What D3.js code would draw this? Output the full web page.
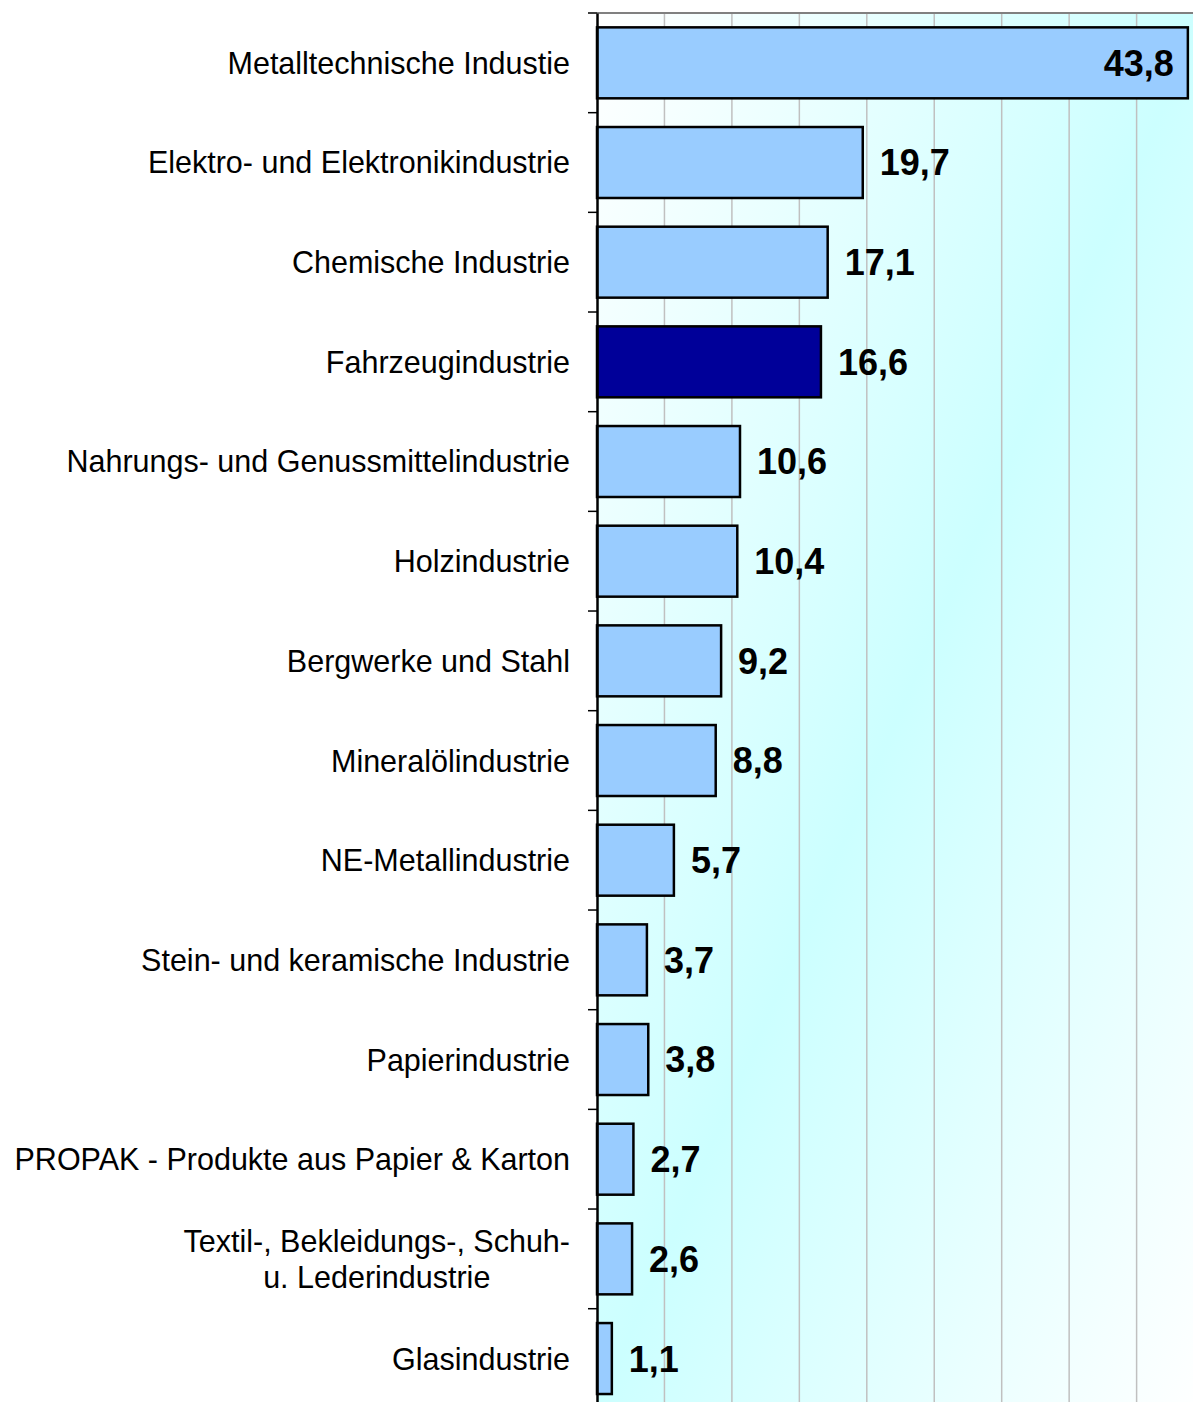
<!DOCTYPE html>
<html>
<head>
<meta charset="utf-8">
<script src="https://cdn.jsdelivr.net/npm/d3@7"></script>
<style>
html,body{margin:0;padding:0;background:#fff;}
svg{display:block;}
</style>
</head>
<body>
<svg id="chart" width="1193" height="1402"></svg>
<script>
const categories = [
  "Metalltechnische Industie",
  "Elektro- und Elektronikindustrie",
  "Chemische Industrie",
  "Fahrzeugindustrie",
  "Nahrungs- und Genussmittelindustrie",
  "Holzindustrie",
  "Bergwerke und Stahl",
  "Mineralölindustrie",
  "NE-Metallindustrie",
  "Stein- und keramische Industrie",
  "Papierindustrie",
  "PROPAK - Produkte aus Papier & Karton",
  "Textil-, Bekleidungs-, Schuh-\nu. Lederindustrie",
  "Glasindustrie"
];
const values = [43.8, 19.7, 17.1, 16.6, 10.6, 10.4, 9.2, 8.8, 5.7, 3.7, 3.8, 2.7, 2.6, 1.1];
const highlighted = ["Fahrzeugindustrie"];
const gridTicks = [5, 10, 15, 20, 25, 30, 35, 40, 45];

const svg = d3.select("#chart");
const mLeft = 597, mTop = 13, mBottom = 13 + 14 * 99.67, mRight = 1193;
const x = d3.scaleLinear().domain([0, 45]).range([mLeft, mLeft + 45 * 13.49]);
const y = d3.scaleBand().domain(categories).range([mTop, mBottom]).paddingInner(0.288).paddingOuter(0.144);

const defs = svg.append("defs");
const grad = defs.append("linearGradient").attr("id", "bg")
  .attr("x1", 0).attr("y1", 0).attr("x2", 1).attr("y2", 1);
grad.append("stop").attr("offset", 0).attr("stop-color", "#ffffff");
grad.append("stop").attr("offset", 0.5).attr("stop-color", "#ccffff");
grad.append("stop").attr("offset", 1).attr("stop-color", "#ffffff");

svg.append("rect").attr("x", mLeft).attr("y", mTop)
  .attr("width", x(45) - mLeft).attr("height", mBottom - mTop)
  .attr("fill", "url(#bg)");

// gridlines
svg.append("g").selectAll("line").data(gridTicks).join("line")
  .attr("x1", d => x(d)).attr("x2", d => x(d))
  .attr("y1", mTop).attr("y2", mBottom)
  .attr("stroke", "#c0c0c0").attr("stroke-width", 1.5);

// top border
svg.append("line").attr("x1", mLeft).attr("x2", x(45)).attr("y1", mTop).attr("y2", mTop)
  .attr("stroke", "#808080").attr("stroke-width", 2);

// bars
const data = categories.map((c, i) => ({c, v: values[i]}));
svg.append("g").selectAll("rect").data(data).join("rect")
  .attr("x", x(0))
  .attr("y", d => y(d.c))
  .attr("width", d => x(d.v) - x(0))
  .attr("height", y.bandwidth())
  .attr("fill", d => highlighted.includes(d.c) ? "#000099" : "#99ccff")
  .attr("stroke", "#000").attr("stroke-width", 2.5);

// axis
const yAxis = d3.axisLeft(y).tickSize(0).tickFormat("");
const axG = svg.append("g").attr("transform", `translate(${mLeft},0)`).call(yAxis);
axG.select(".domain").attr("stroke", "#000").attr("stroke-width", 2.5);
// boundary ticks
const bounds = categories.map(c => y(c) - y.step() * y.paddingInner() / 2);
svg.append("g").selectAll("line").data(bounds).join("line")
  .attr("x1", mLeft - 9).attr("x2", mLeft).attr("y1", d => d).attr("y2", d => d)
  .attr("stroke", "#000").attr("stroke-width", 1.5);

// category labels
const fmt = v => String(v).replace(".", ",");
const lab = svg.append("g").attr("font-family", "Liberation Sans, Arial, sans-serif")
  .attr("font-size", 30.5).attr("fill", "#000");
data.forEach(d => {
  const lines = d.c.split("\n");
  const cy = y(d.c) + y.bandwidth() / 2;
  if (lines.length === 1) {
    lab.append("text").attr("x", 570).attr("y", cy).attr("dy", "0.36em")
      .attr("text-anchor", "end").text(lines[0]);
  } else {
    const t = lab.append("text").attr("text-anchor", "middle");
    const tmp = t.append("tspan").text(lines[0]);
    const w = tmp.node().getComputedTextLength();
    tmp.remove();
    const cx = 570 - w / 2;
    lines.forEach((ln, i) => {
      t.append("tspan").attr("x", cx)
        .attr("y", cy + (i - (lines.length - 1) / 2) * 36)
        .attr("dy", "0.36em").text(ln);
    });
  }
});

// value labels
const vl = svg.append("g").attr("font-family", "Liberation Sans, Arial, sans-serif")
  .attr("font-size", 36).attr("font-weight", "bold").attr("fill", "#000");
data.forEach(d => {
  const cy = y(d.c) + y.bandwidth() / 2;
  const inside = x(d.v) + 90 > mRight;
  vl.append("text")
    .attr("x", inside ? x(d.v) - 14 : x(d.v) + 17)
    .attr("y", cy).attr("dy", "0.36em")
    .attr("text-anchor", inside ? "end" : "start")
    .text(fmt(d.v));
});
</script>
</body>
</html>
